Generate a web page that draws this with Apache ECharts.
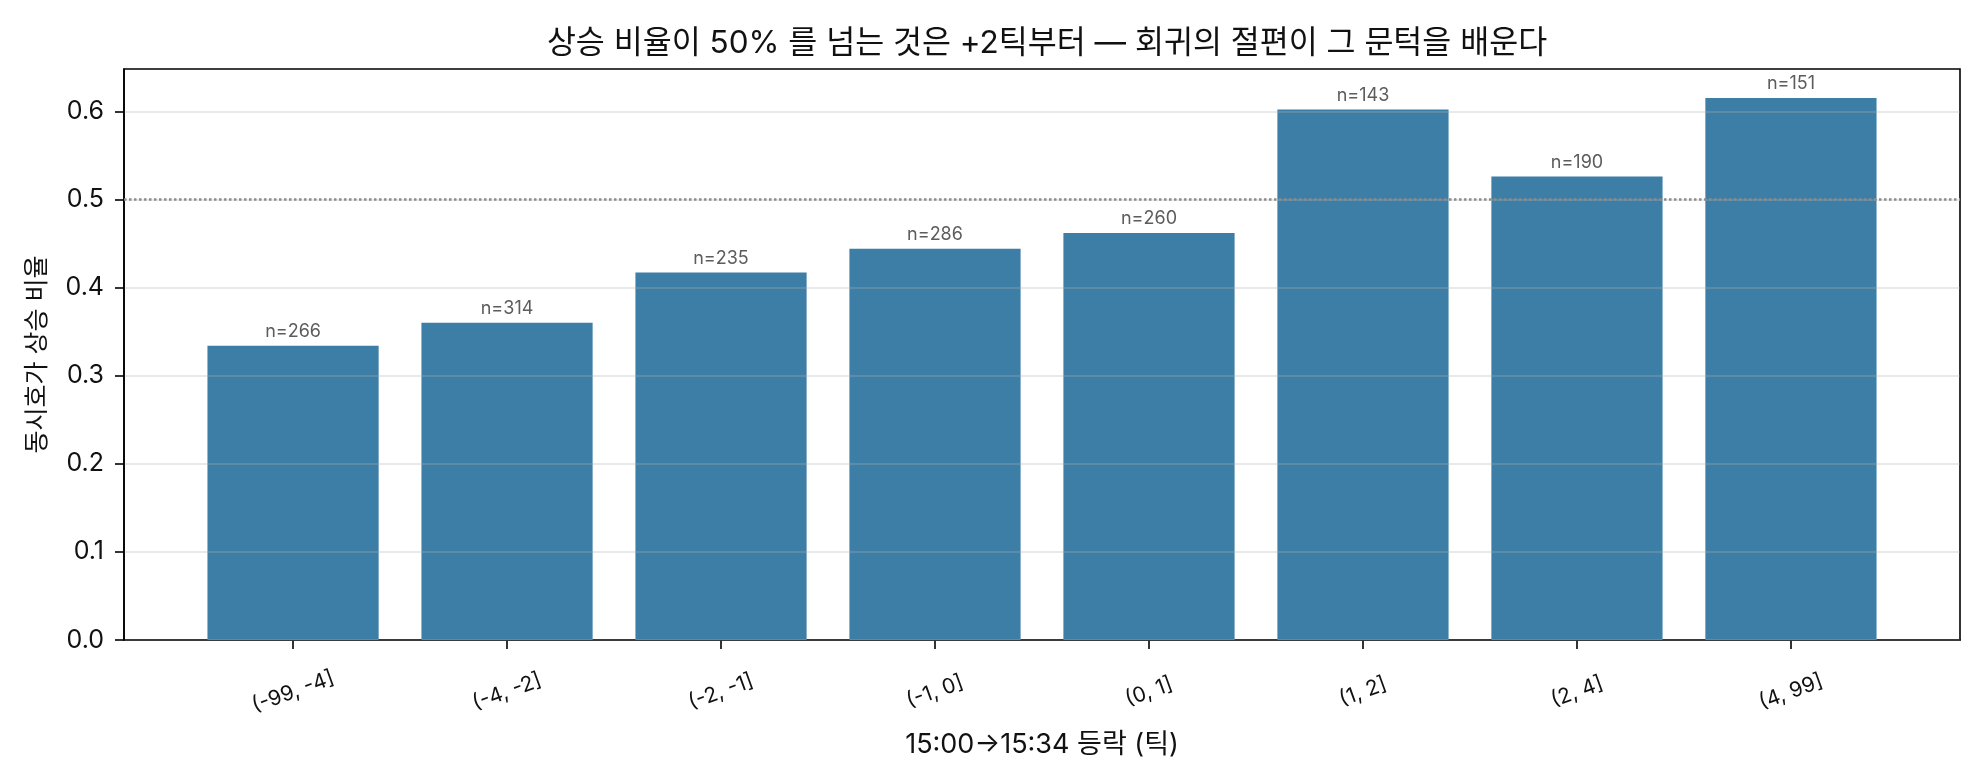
<!DOCTYPE html>
<html>
<head>
<meta charset="utf-8">
<script src="https://cdn.jsdelivr.net/npm/echarts@6/dist/echarts.min.js"></script>
<style>
html,body{margin:0;padding:0;background:#fff;}
#chart{width:1980px;height:780px;}
</style>
</head>
<body>
<div id="chart"></div>
<script>
const categories = ['(-99, -4]', '(-4, -2]', '(-2, -1]', '(-1, 0]', '(0, 1]', '(1, 2]', '(2, 4]', '(4, 99]'];
const upRatio = [0.334, 0.360, 0.417, 0.444, 0.462, 0.602, 0.526, 0.615];
const counts = [266, 314, 235, 286, 260, 143, 190, 151];
const yTicks = [0, 0.1, 0.2, 0.3, 0.4, 0.5, 0.6];
const refLevel = 0.5;
const titleText = '상승 비율이 50% 를 넘는 것은 +2틱부터 — 회귀의 절편이 그 문턱을 배운다';
const xName = '15:00→15:34 등락 (틱)';
const yName = '동시호가 상승 비율';

const FONT = "Inter, 'Noto Sans CJK KR', 'Noto Sans', sans-serif";
const catIdx = categories.map((_, i) => i);

const chart = echarts.init(document.getElementById('chart'), null, {renderer: 'canvas'});
chart.setOption({
  backgroundColor: '#ffffff',
  animation: false,
  textStyle: {fontFamily: FONT},
  title: {
    text: titleText,
    left: 1042,
    top: 23,
    textAlign: 'center',
    textStyle: {fontFamily: FONT, fontSize: 31.5, fontWeight: 'normal', color: '#111'}
  },
  grid: {
    left: 124, right: 20, top: 69, bottom: 140,
    show: true, borderColor: '#000', borderWidth: 1.6, backgroundColor: 'transparent'
  },
  xAxis: {
    type: 'value',
    min: -0.79, max: 7.79,
    name: xName,
    nameLocation: 'middle',
    nameGap: 91,
    nameTextStyle: {fontFamily: FONT, fontSize: 27, color: '#111'},
    axisLine: {show: true, onZero: false, lineStyle: {color: '#000', width: 1.6}},
    axisTick: {show: true, length: 9, customValues: catIdx, lineStyle: {color: '#000', width: 1.6}},
    axisLabel: {
      customValues: catIdx,
      formatter: v => categories[Math.round(v)],
      rotate: 20,
      align: 'center',
      verticalAlign: 'middle',
      margin: 52,
      fontFamily: FONT, fontSize: 21, color: '#111'
    },
    splitLine: {show: false}
  },
  yAxis: {
    type: 'value',
    min: 0, max: 0.648,
    z: 3,
    name: yName,
    nameLocation: 'middle',
    nameGap: 74,
    nameTextStyle: {fontFamily: FONT, fontSize: 25, color: '#111'},
    axisLine: {show: true, onZero: false, lineStyle: {color: '#000', width: 1.6}},
    axisTick: {show: true, length: 9, customValues: yTicks, lineStyle: {color: '#000', width: 1.6}},
    axisLabel: {
      customValues: yTicks,
      formatter: v => v.toFixed(1),
      margin: 20,
      fontFamily: FONT, fontSize: 25, color: '#111'
    },
    splitLine: {show: true, lineStyle: {color: 'rgba(176,176,176,0.28)', width: 2}}
  },
  series: [{
    type: 'bar',
    z: 1,
    barWidth: '80%',
    data: upRatio.map((v, i) => [i, v]),
    itemStyle: {color: '#3d7ea6'},
    label: {
      show: true,
      position: 'top',
      distance: 5,
      formatter: p => 'n=' + counts[p.dataIndex],
      fontFamily: FONT, fontSize: 18, color: '#5c5c5c'
    },
    markLine: {
      silent: true,
      symbol: ['none', 'none'],
      label: {show: false},
      lineStyle: {color: '#8c8c8c', width: 2.5, type: [2.5, 2.5]},
      data: [{yAxis: refLevel}]
    }
  }]
});
</script>
</body>
</html>
